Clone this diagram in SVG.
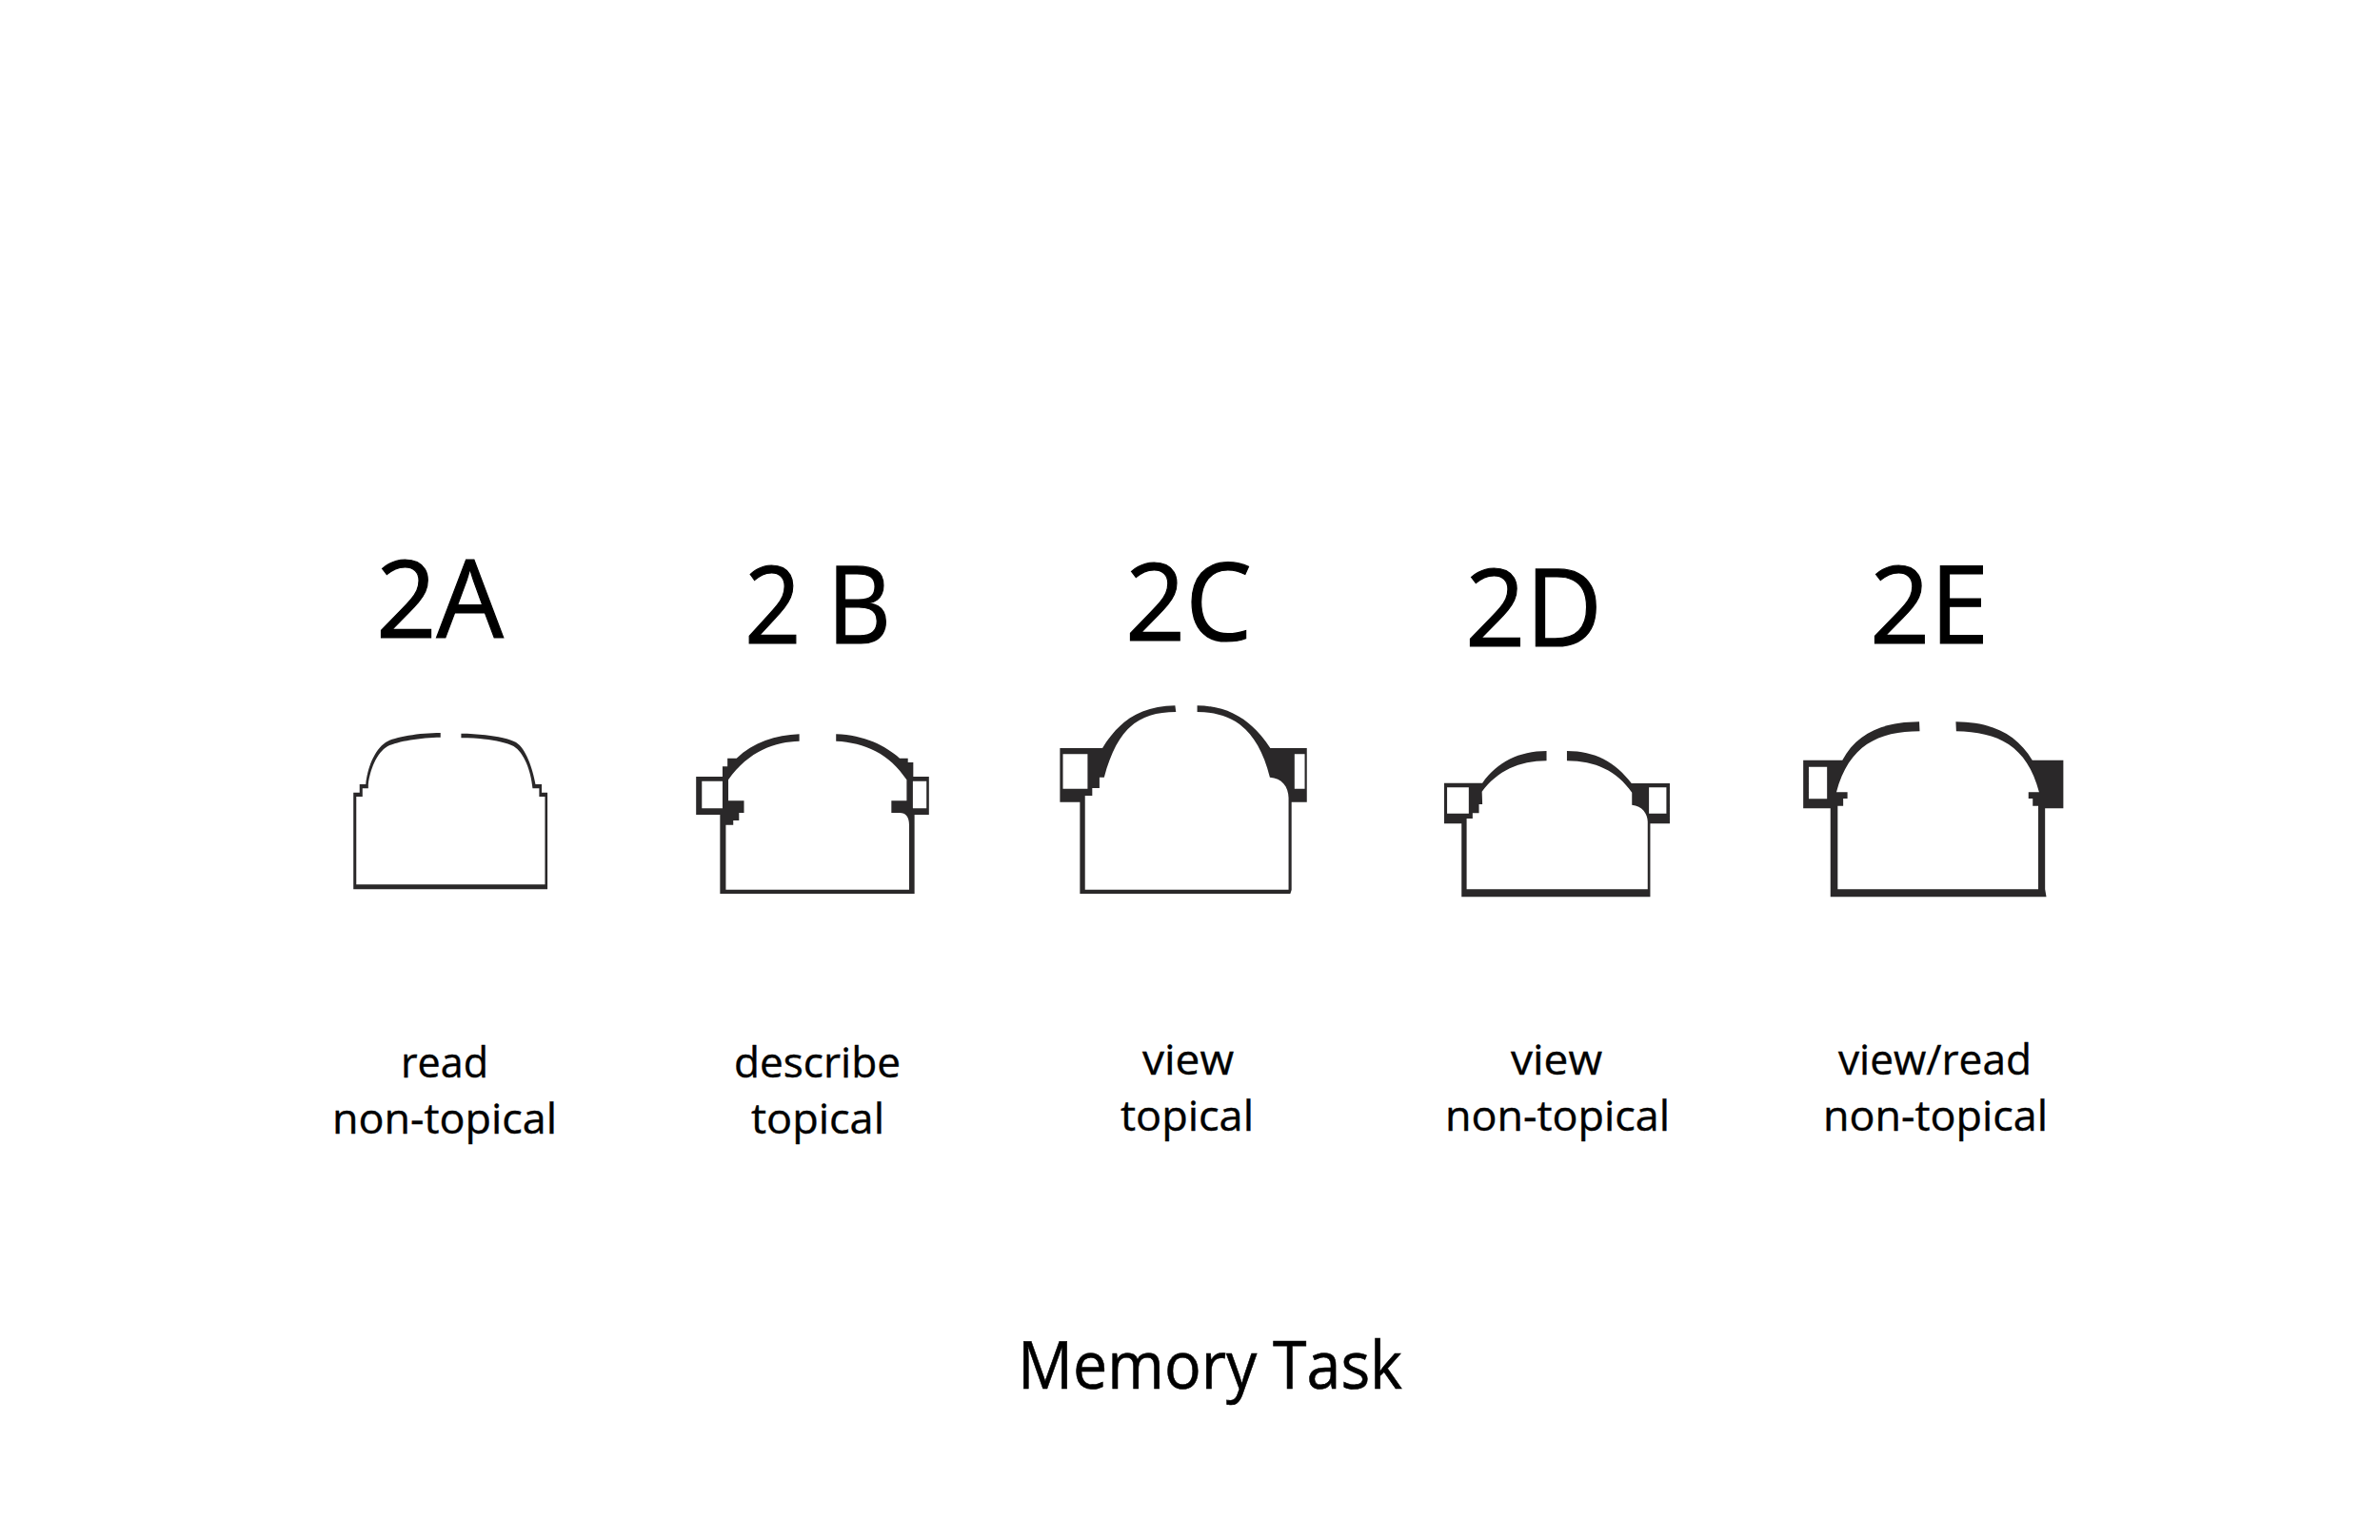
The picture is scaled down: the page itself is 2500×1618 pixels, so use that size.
<svg xmlns="http://www.w3.org/2000/svg" width="2500" height="1618" viewBox="0 0 2500 1618">
<style>
text{font-family:"Open Sans","Noto Sans",sans-serif;fill:#000;stroke:#000}
.h{font-size:114px;stroke-width:1.2px}
.l{font-size:44px;stroke-width:.4px}
.t{font-size:70px;stroke-width:.6px}
.s{fill:#2a2829;fill-rule:evenodd}
</style>
<rect width="2500" height="1618" fill="#fff"/>
<g id="node-2A">
<text class="h" x="395" y="670" textLength="134" lengthAdjust="spacingAndGlyphs">2A</text>
<path class="s" transform="translate(340 720) scale(.4337 .3333)" d="M72 643V338H87V312H102C106 262 122 205 150 180C172 162 232 150 283 150V164C235 165 180 176 155 192C128 212 112 268 108 312V325H94V351H79V628H536V351H522V325H506C502 268 485 212 460 192C435 175 385 166 333 166V152C385 152 444 164 466 180C490 200 506 262 513 312H528V338H542V643Z"/>
<text class="l" x="421" y="1132" textLength="92" lengthAdjust="spacingAndGlyphs">read</text>
<text class="l" x="349" y="1191" textLength="236" lengthAdjust="spacingAndGlyphs">non-topical</text>
</g>
<g id="node-2B">
<text class="h" x="782" y="676" textLength="154" lengthAdjust="spacingAndGlyphs">2 B</text>
<path class="s" transform="translate(340 720) scale(.4337 .3333)" d="M960 657V408H902V288H966V256H978V230H1000C1040 180 1095 157 1152 154V176C1095 178 1030 205 980 298V364H1018V402H1006V426H992V440H974V644H1418V440C1418 415 1410 402 1395 402H1375V364H1412V298C1370 215 1310 180 1241 176V154C1310 157 1360 190 1395 230H1415V243H1428V288H1466V408H1431V657ZM916 302H966V388H916ZM1427 302H1460V388H1427Z"/>
<text class="l" x="771" y="1132" textLength="175" lengthAdjust="spacingAndGlyphs">describe</text>
<text class="l" x="789" y="1191" textLength="140" lengthAdjust="spacingAndGlyphs">topical</text>
</g>
<g id="node-2C">
<text class="h" x="1182" y="673" textLength="133" lengthAdjust="spacingAndGlyphs">2C</text>
<path class="s" transform="translate(1100 720) scale(.4464 .3333)" d="M77 657V368H30V198H130C165 120 215 65 301 64L303 84C215 84 165 135 134 290H123V324H106V348H89V644H568V355C568 320 552 292 524 290C495 135 435 85 353 84V64C430 64 485 115 525 198H611V368H575V645L572 657ZM37 217H95V326H37ZM582 217H606V326H582Z"/>
<text class="l" x="1200" y="1129" textLength="96" lengthAdjust="spacingAndGlyphs">view</text>
<text class="l" x="1177" y="1188" textLength="140" lengthAdjust="spacingAndGlyphs">topical</text>
</g>
<g id="node-2D">
<text class="h" x="1539" y="679" textLength="144" lengthAdjust="spacingAndGlyphs">2D</text>
<path class="s" transform="translate(1100 720) scale(.4464 .3333)" d="M975 667V436H934V308H1024C1060 240 1110 208 1175 207V238C1110 238 1060 270 1023 335L1024 375H1016V403H1001V420H987V643H1413V430C1413 405 1400 380 1376 377V338C1340 270 1290 238 1223 238V207C1290 208 1335 240 1375 309H1465V436H1419V667ZM941 322H992V404H941ZM1416 322H1457V404H1416Z"/>
<text class="l" x="1587" y="1129" textLength="96" lengthAdjust="spacingAndGlyphs">view</text>
<text class="l" x="1518" y="1188" textLength="236" lengthAdjust="spacingAndGlyphs">non-topical</text>
</g>
<g id="node-2E">
<text class="h" x="1964" y="676" textLength="125" lengthAdjust="spacingAndGlyphs">2E</text>
<path class="s" transform="translate(1500 740) scale(.4464 .3333)" d="M947 607V328H883V176H975C1010 90 1070 56 1156 55L1157 85C1060 85 990 130 961 277H987V297H977V320H964V583H1436V320H1423V297H1413V277H1438C1410 130 1340 87 1243 85L1242 55C1330 56 1385 95 1422 176H1495V328H1452V583L1455 607ZM896 197H939V298H896Z"/>
<text class="l" x="1931" y="1129" textLength="203" lengthAdjust="spacingAndGlyphs">view/read</text>
<text class="l" x="1915" y="1188" textLength="236" lengthAdjust="spacingAndGlyphs">non-topical</text>
</g>
<text id="title" class="t" x="1069" y="1459" textLength="404" lengthAdjust="spacingAndGlyphs">Memory Task</text>
</svg>
